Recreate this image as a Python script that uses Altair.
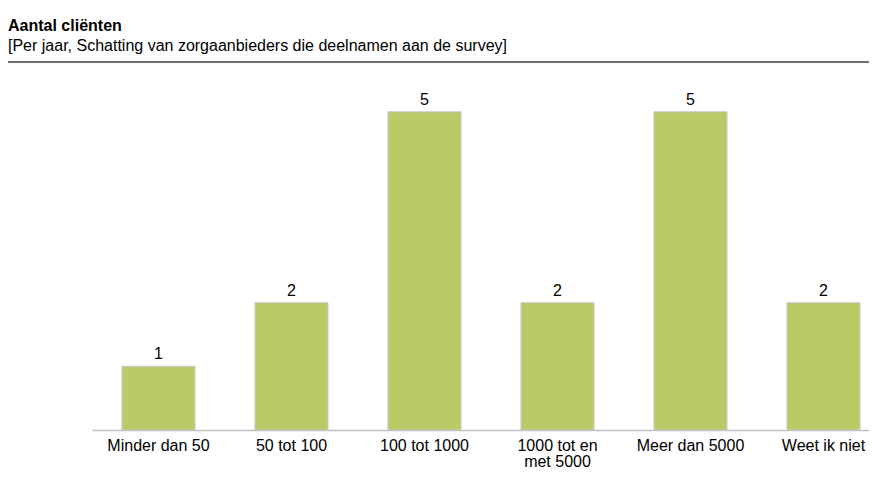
import altair as alt
import pandas as pd

categories = ["Minder dan 50", "50 tot 100", "100 tot 1000", "1000 tot en met 5000", "Meer dan 5000", "Weet ik niet"]
values = [1, 2, 5, 2, 5, 2]
title_text = "Aantal cliënten"
subtitle_text = "[Per jaar, Schatting van zorgaanbieders die deelnamen aan de survey]"

df = pd.DataFrame({"cat": categories, "val": values})

FONT = "Liberation Sans"

x = alt.X(
    "cat:N",
    sort=categories,
    title=None,
    scale=alt.Scale(paddingInner=0.451, paddingOuter=0.1466, align=0.769),
    axis=alt.Axis(
        labelAngle=0,
        labelFontSize=16,
        labelFont=FONT,
        labelColor="#000000",
        labelPadding=7,
        labelLineHeight=16,
        ticks=False,
        domainColor="#BFBFBF",
        domainWidth=1.5,
        labelExpr="datum.value == '1000 tot en met 5000' ? ['1000 tot en', 'met 5000'] : datum.label",
    ),
)
y = alt.Y("val:Q", title=None, scale=alt.Scale(domain=[0, 5.5], nice=False), axis=None)

bars = alt.Chart(df).mark_bar(color="#BBC966", stroke="#C8C8C8", strokeWidth=1).encode(x=x, y=y)
labels = alt.Chart(df).mark_text(baseline="bottom", dy=-4, fontSize=16, font=FONT, color="#000000").encode(
    x=x, y=y, text="val:Q"
)
rule = alt.Chart(alt.Data(values=[{}])).mark_rule(color="#404040", strokeWidth=1.5).encode(
    x=alt.value(-84), x2=alt.value(777), y=alt.value(-18)
)

chart = alt.layer(bars, labels, rule).properties(
    width=777,
    height=350,
    padding={"left": 84, "top": 72, "right": 0, "bottom": 40},
    autosize=alt.AutoSizeParams(type="none"),
    title=alt.TitleParams(
        text=title_text,
        subtitle=subtitle_text,
        anchor="start",
        frame="group",
        dx=-84,
        offset=7,
        font=FONT,
        fontSize=16,
        fontWeight="bold",
        color="#000000",
        subtitleFont=FONT,
        subtitleFontSize=16,
        subtitleColor="#000000",
        subtitlePadding=4,
    ),
).configure_view(stroke=None)

chart.save("out.html", embed_options={"renderer": "svg", "actions": False})
